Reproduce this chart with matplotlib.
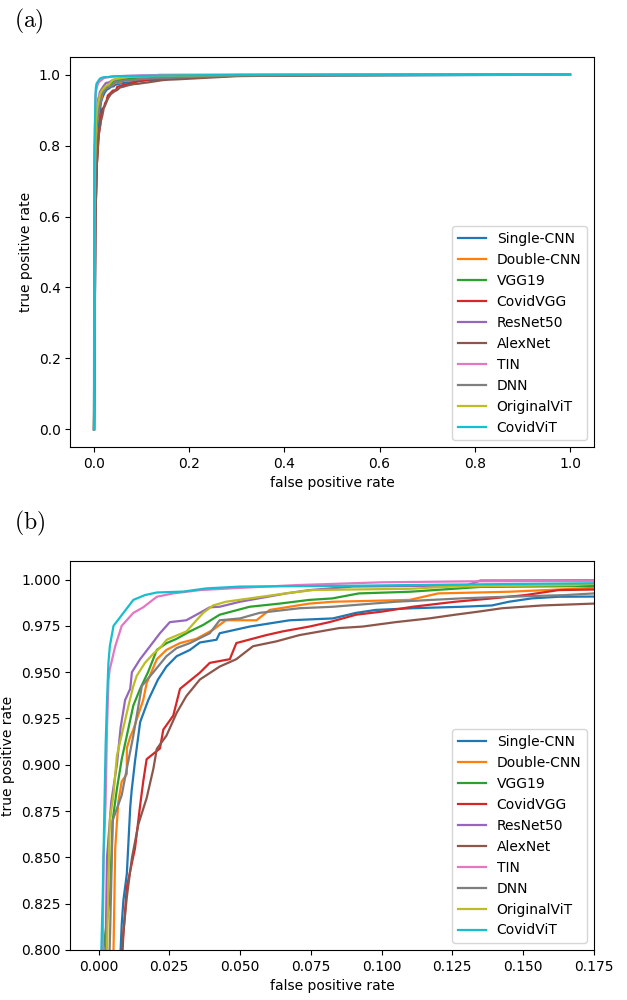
import numpy as np
from matplotlib import pyplot as plt

plt.rcParams['mathtext.fontset'] = 'cm'

models = ['Single-CNN', 'Double-CNN', 'VGG19', 'CovidVGG', 'ResNet50',
          'AlexNet', 'TIN', 'DNN', 'OriginalViT', 'CovidViT']

# roc points (fpr, tpr)
fpr_single = [0, 0.003, 0.006, 0.0078, 0.0082, 0.0088, 0.01, 0.0112, 0.0117, 0.0129, 0.0147, 0.0176, 0.021, 0.024,
              0.0276, 0.0323, 0.0358, 0.0417, 0.0428, 0.0534, 0.0675, 0.0828, 0.091, 0.098, 0.111, 0.1285, 0.139,
              0.145, 0.153, 0.1626, 0.175, 0.3, 1.0]
tpr_single = [0, 0.6, 0.75, 0.80, 0.814, 0.827, 0.841, 0.877, 0.886, 0.902, 0.923, 0.935, 0.946, 0.953,
              0.9586, 0.962, 0.966, 0.9675, 0.971, 0.9746, 0.978, 0.979, 0.982, 0.9836, 0.9845, 0.9853, 0.986,
              0.988, 0.9898, 0.9907, 0.9908, 0.997, 1.0]

fpr_double = [0, 0.002, 0.004, 0.0053, 0.0059, 0.007, 0.0082, 0.01, 0.01, 0.0112, 0.0123, 0.0158, 0.017, 0.0206,
              0.024, 0.0288, 0.0346, 0.0405, 0.045, 0.0558, 0.0605, 0.0745, 0.0828, 0.11, 0.12, 0.145, 0.1625,
              0.175, 0.3, 1.0]
tpr_double = [0, 0.6, 0.75, 0.80, 0.855, 0.88, 0.891, 0.895, 0.909, 0.915, 0.919, 0.935, 0.944, 0.957,
              0.962, 0.9657, 0.968, 0.9729, 0.978, 0.978, 0.9836, 0.987, 0.988, 0.989, 0.9925, 0.9934, 0.9946,
              0.9955, 0.999, 1.0]

fpr_vgg = [0, 0.001, 0.0015, 0.0017, 0.0041, 0.005, 0.0065, 0.0082, 0.01, 0.0123, 0.0147, 0.0175, 0.0206, 0.0241,
           0.0276, 0.0323, 0.037, 0.0428, 0.0534, 0.064, 0.0745, 0.0826, 0.092, 0.11, 0.135, 0.175, 0.3, 1.0]
tpr_vgg = [0, 0.6, 0.75, 0.80, 0.83, 0.87, 0.887, 0.903, 0.9157, 0.932, 0.941, 0.95, 0.962, 0.9657,
           0.968, 0.972, 0.9755, 0.981, 0.9853, 0.987, 0.989, 0.9898, 0.9925, 0.9934, 0.996, 0.9965, 0.999, 1.0]

fpr_covidvgg = [0, 0.003, 0.006, 0.0085, 0.0088, 0.01, 0.0129, 0.0147, 0.0158, 0.017, 0.0217, 0.0229, 0.0264,
                0.0288, 0.0358, 0.0393, 0.0464, 0.0487, 0.0593, 0.0651, 0.0745, 0.0816, 0.091, 0.1003, 0.111,
                0.126, 0.139, 0.1508, 0.1626, 0.175, 0.3, 1.0]
tpr_covidvgg = [0, 0.6, 0.75, 0.80, 0.809, 0.834, 0.855, 0.878, 0.891, 0.903, 0.9088, 0.919, 0.9265,
                0.941, 0.9497, 0.955, 0.957, 0.9657, 0.970, 0.972, 0.9746, 0.977, 0.981, 0.9827, 0.9853,
                0.988, 0.9898, 0.9916, 0.9943, 0.9946, 0.999, 1.0]

fpr_resnet = [0, 0.001, 0.002, 0.0025, 0.003, 0.0045, 0.0065, 0.0078, 0.0094, 0.0112, 0.0118, 0.0147, 0.0182,
              0.0217, 0.0252, 0.031, 0.0358, 0.0393, 0.0428, 0.05, 0.0663, 0.0745, 0.09, 0.13, 0.135, 0.175,
              0.3, 1.0]
tpr_resnet = [0, 0.6, 0.75, 0.80, 0.85, 0.88, 0.90, 0.92, 0.935, 0.941, 0.950, 0.957, 0.964,
              0.971, 0.977, 0.978, 0.982, 0.985, 0.9853, 0.988, 0.9925, 0.9943, 0.9962, 0.9968, 0.9995, 0.9996,
              0.9998, 1.0]

fpr_alex = [0, 0.003, 0.006, 0.0082, 0.01, 0.0118, 0.0141, 0.017, 0.0194, 0.0206, 0.024, 0.0276, 0.031, 0.0358,
            0.0428, 0.0487, 0.0546, 0.0628, 0.071, 0.0851, 0.0933, 0.105, 0.1168, 0.126, 0.1344, 0.1426, 0.1567,
            0.175, 0.3, 0.5, 1.0]
tpr_alex = [0, 0.6, 0.75, 0.80, 0.8286, 0.8497, 0.868, 0.882, 0.898, 0.9086, 0.9157, 0.928, 0.937, 0.946,
            0.953, 0.957, 0.964, 0.9666, 0.970, 0.9738, 0.9746, 0.977, 0.979, 0.981, 0.9827, 0.9845, 0.986,
            0.987, 0.996, 0.999, 1.0]

fpr_tin = [0, 0.0005, 0.001, 0.0015, 0.0018, 0.0025, 0.003, 0.0035, 0.0039, 0.0059, 0.0082, 0.0123, 0.0158,
           0.0206, 0.0264, 0.0358, 0.05, 0.07, 0.1, 0.13, 0.175, 0.3, 1.0]
tpr_tin = [0, 0.6, 0.75, 0.80, 0.85, 0.88, 0.92, 0.945, 0.951, 0.964, 0.975, 0.982, 0.985,
           0.9907, 0.9925, 0.9943, 0.9955, 0.997, 0.9985, 0.999, 0.9993, 0.9997, 1.0]

fpr_dnn = [0, 0.002, 0.003, 0.0041, 0.005, 0.0082, 0.01, 0.0123, 0.0153, 0.0194, 0.024, 0.0276, 0.0323, 0.0393,
           0.0428, 0.05, 0.0569, 0.071, 0.0828, 0.105, 0.128, 0.14, 0.165, 0.175, 0.3, 1.0]
tpr_dnn = [0, 0.6, 0.75, 0.81, 0.87, 0.8836, 0.898, 0.9157, 0.9425, 0.95, 0.9586, 0.963, 0.9657, 0.971,
           0.978, 0.979, 0.982, 0.9845, 0.9853, 0.988, 0.9898, 0.9905, 0.9916, 0.9925, 0.998, 1.0]

fpr_orivit = [0, 0.001, 0.002, 0.003, 0.004, 0.0053, 0.0065, 0.0106, 0.0123, 0.0135, 0.0164, 0.0194, 0.0217,
              0.0241, 0.0264, 0.0311, 0.0346, 0.037, 0.0405, 0.045, 0.0534, 0.066, 0.0757, 0.0886, 0.11, 0.125,
              0.168, 0.175, 0.3, 1.0]
tpr_orivit = [0, 0.6, 0.75, 0.80, 0.87, 0.884, 0.905, 0.932, 0.9425, 0.948, 0.955, 0.960, 0.963,
              0.9675, 0.969, 0.972, 0.978, 0.982, 0.986, 0.988, 0.9898, 0.9925, 0.9943, 0.9946, 0.995, 0.9962,
              0.997, 0.9977, 0.9993, 1.0]

fpr_covidvit = [0, 0.0003, 0.0008, 0.001, 0.0015, 0.002, 0.0025, 0.003, 0.0035, 0.004, 0.0053, 0.0088, 0.0123,
                0.0164, 0.0206, 0.030, 0.038, 0.05, 0.088, 0.12, 0.175, 0.25, 0.4, 1.0]
tpr_covidvit = [0, 0.6, 0.75, 0.80, 0.83, 0.87, 0.91, 0.935, 0.955, 0.964, 0.975, 0.982, 0.989,
                0.9916, 0.993, 0.9935, 0.9952, 0.9962, 0.9966, 0.9972, 0.998, 0.999, 0.9995, 1.0]

fprs = [fpr_single, fpr_double, fpr_vgg, fpr_covidvgg, fpr_resnet,
        fpr_alex, fpr_tin, fpr_dnn, fpr_orivit, fpr_covidvit]
tprs = [tpr_single, tpr_double, tpr_vgg, tpr_covidvgg, tpr_resnet,
        tpr_alex, tpr_tin, tpr_dnn, tpr_orivit, tpr_covidvit]

fig = plt.figure(figsize=(6.27, 10), dpi=100)
ax1 = fig.add_axes([0.112, 0.553, 0.835, 0.39])
ax2 = fig.add_axes([0.112, 0.050, 0.835, 0.389])

for ax in [ax1, ax2]:
    for i in range(len(models)):
        ax.plot(fprs[i], tprs[i], lw=1.6, label=models[i])
    ax.set_xlabel("false positive rate")
    ax.set_ylabel("true positive rate")
    ax.legend(loc='lower right')

ax2.set_xlim(-0.01, 0.175)
ax2.set_ylim(0.8, 1.01)

fig.text(0.022, 0.979, r'$\mathrm{(a)}$', fontsize=17, va='center')
fig.text(0.022, 0.477, r'$\mathrm{(b)}$', fontsize=17, va='center')

plt.savefig('out.png', dpi=100)
